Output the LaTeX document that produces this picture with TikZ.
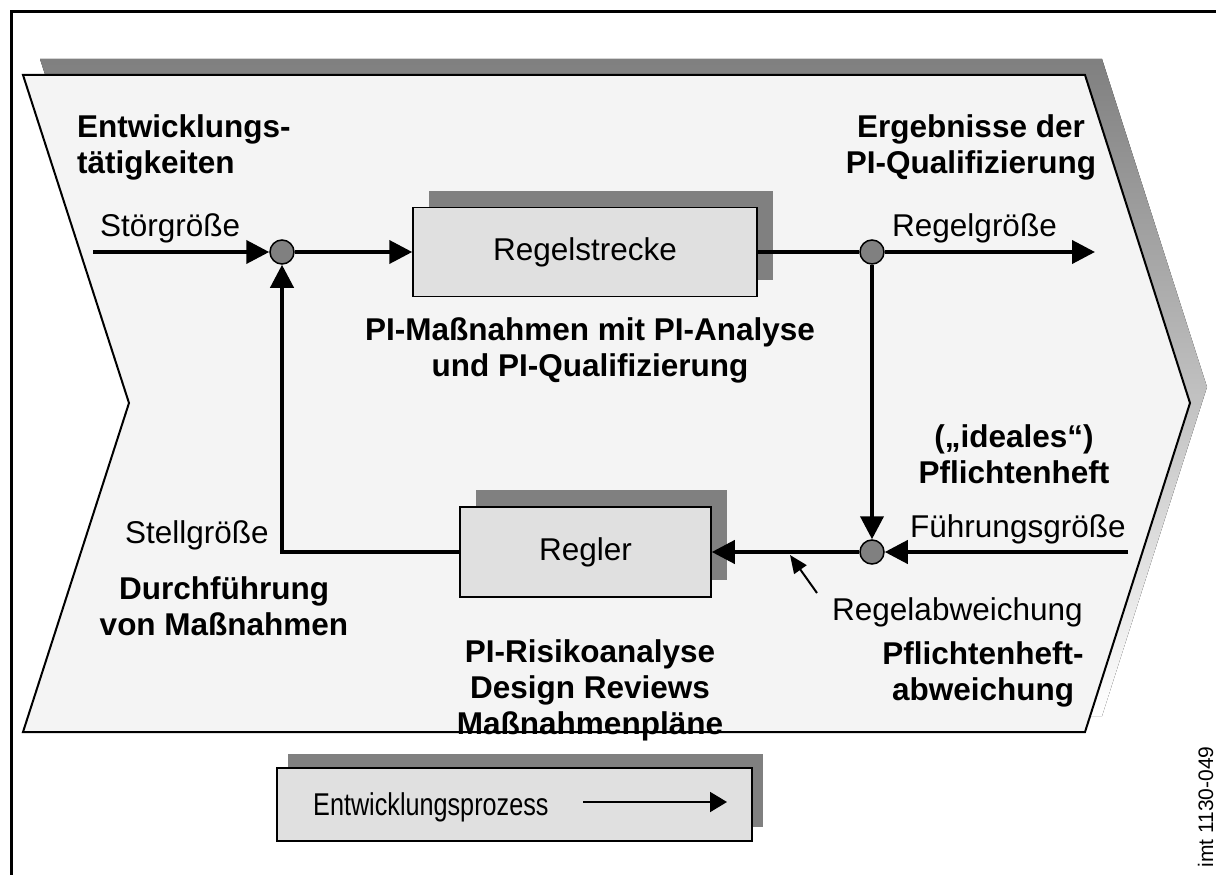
\documentclass[tikz,border=0pt]{standalone}
\usepackage{fontspec}
\setmainfont{Liberation Sans}
\usetikzlibrary{arrows.meta,shadows}
\definecolor{shade}{HTML}{808080}
\definecolor{panel}{HTML}{F4F4F4}
\definecolor{boxfill}{HTML}{E0E0E0}
\begin{document}
\begin{tikzpicture}[x=1pt,y=-1pt,
  txt/.style={inner sep=0pt, font=\fontsize{31.5}{36}\selectfont},
  btxt/.style={inner sep=0pt, font=\fontsize{31.5}{36}\selectfont\bfseries},
  block/.style={draw=black, line width=1.5pt, fill=boxfill, inner sep=0pt,
    drop shadow={opacity=1, fill=shade, shadow xshift=16pt, shadow yshift=17pt}},
  junction/.style={circle, draw=black, line width=1.5pt, fill=shade,
    minimum size=24pt, inner sep=0pt},
  wire/.style={line width=4pt},
  flow/.style={wire, -{Triangle[length=23pt,width=23pt]}},
  pointer/.style={line width=2pt, -{Triangle[length=18pt,width=15pt]}},
]
\useasboundingbox (0,0) rectangle (1216,875);

% outer frame
\draw[line width=3pt] (11.5,875) -- (11.5,11.5) -- (1216,11.5);

% process chevron with its shadow
\fill[shade] (40,59) -- (1102,59) -- (1207,387) -- (1102,716) -- (40,716) -- (146,387) -- cycle;
\draw[line width=2pt, fill=panel] (23,75) -- (1085,75) -- (1190,403) -- (1085,732) -- (23,732) -- (129,403) -- cycle;

% blocks and summing junctions
\node[block, minimum width=344pt, minimum height=89pt, txt] (strecke) at (585,252) {Regelstrecke};
\node[block, minimum width=251pt, minimum height=90pt, txt] (regler) at (585.5,552) {Regler};
\node[junction] (c1) at (282,252) {};
\node[junction] (c2) at (872,252) {};
\node[junction] (c3) at (872,552) {};

\coordinate (inS) at (93,252);
\coordinate (outR) at (1095,252);
\coordinate (inF) at (1128,552);
\coordinate (pA) at (817,593);
\coordinate (pB) at (790,555);

% signal flow
\draw[flow] (inS) -- (c1);
\draw[flow] (c1) -- (strecke);
\draw[wire] (strecke) -- (c2);
\draw[flow] (c2) -- (outR);
\draw[flow] (c2) -- (c3);
\draw[flow] (inF) -- (c3);
\draw[flow] (c3) -- (regler);
\draw[flow] (regler.west) -| (c1);
\draw[pointer] (pA) -- (pB);

% labels (multi-line nodes are placed by the baseline of their last line)
\node[btxt, anchor=base west, align=left] (tEnt) at (77,173) {Entwicklungs-\\tätigkeiten};
\node[btxt, anchor=base, align=center] (tErg) at (971,173) {Ergebnisse der\\PI-Qualifizierung};
\node[txt, anchor=base west] (tStoer) at (100,236) {Störgröße};
\node[txt, anchor=base west] (tRgr) at (892,236) {Regelgröße};
\node[btxt, anchor=base, align=center] (tMass) at (590,376) {PI-Maßnahmen mit PI-Analyse\\und PI-Qualifizierung};
\node[btxt, anchor=base, align=center] (tIdeal) at (1014,483) {(„ideales“)\\Pflichtenheft};
\node[txt, anchor=base west] (tFuehr) at (910,537) {Führungsgröße};
\node[txt, anchor=base west] (tStell) at (125,543) {Stellgröße};
\node[btxt, anchor=base, align=center] (tDurch) at (224,635) {Durchführung\\von Maßnahmen};
\node[txt, anchor=base west] (tAbw) at (832,620) {Regelabweichung};
\node[btxt, anchor=base, align=center] (tRisk) at (590,734) {PI-Risikoanalyse\\Design Reviews\\Maßnahmenpläne};
\node[btxt, anchor=base, align=center] (tPfl) at (983,700) {Pflichtenheft-\\abweichung};

% process legend
\node[draw=black, line width=1.5pt, fill=boxfill, minimum width=475pt, minimum height=73pt,
  drop shadow={opacity=1, fill=shade, shadow xshift=11pt, shadow yshift=14pt}] (legend) at (514.5,804.5) {};
\node[txt, anchor=base west] (tProz) at (313,815) {\scalebox{0.8}[1]{Entwicklungsprozess}};
\coordinate (lA) at (583,802);
\coordinate (lB) at (727,802);
\draw[line width=2pt, -{Triangle[length=17pt,width=20pt]}] (lA) -- (lB);

\node[inner sep=0pt, font=\fontsize{21}{24}\selectfont, anchor=base, rotate=90] (tId) at (1213,807) {imt 1130-049};
\end{tikzpicture}
\end{document}
